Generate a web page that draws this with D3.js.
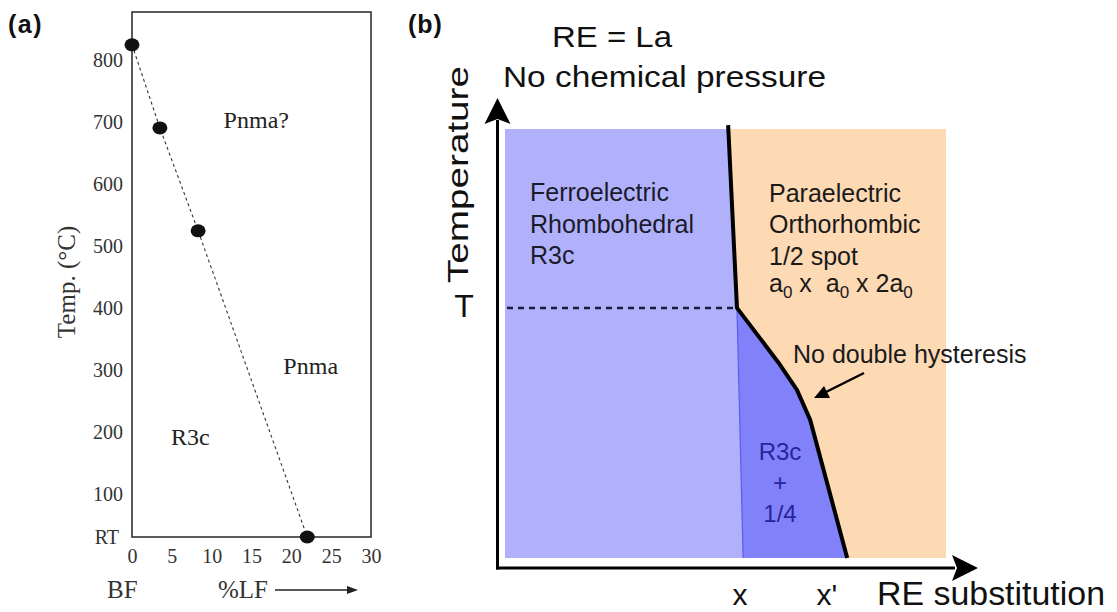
<!DOCTYPE html>
<html>
<head>
<meta charset="utf-8">
<script src="https://cdn.jsdelivr.net/npm/d3@7"></script>
<style>
  html, body { margin: 0; padding: 0; background: #fff; }
  svg { display: block; }
  text { white-space: pre; }
</style>
</head>
<body>
<svg id="chart" width="1117" height="612"></svg>
<script>
// ---------- Panel (a): BiFeO3 – LaFeO3 transition temperatures ----------
const lfPercent      = [0, 3.5, 8.3, 22];        // % LaFeO3
const transitionTemp = [824, 690, 524, 30];      // °C (last point sits at RT)
const roomTemp       = 30;
const tempTicks      = [30, 100, 200, 300, 400, 500, 600, 700, 800];
const tempTickLabels = ["RT", "100", "200", "300", "400", "500", "600", "700", "800"];
const lfTicks        = [0, 5, 10, 15, 20, 25, 30];
const tempDomain     = [roomTemp, 877];
const lfDomain       = [0, 30];
const phaseLabelsA   = [
  { text: "Pnma?", lf: 11.5, temp: 690 },
  { text: "Pnma",  lf: 19.0, temp: 293 },
  { text: "R3c",   lf: 4.9,  temp: 178 }
];

// ---------- Panel (b): schematic phase diagram, normalised units ----------
// sub: RE substitution (0..1 across the shaded field), temp: temperature (0..1)
const phaseBoundary = [
  { sub: 0.506, temp: 1.009 },
  { sub: 0.526, temp: 0.583 },
  { sub: 0.619, temp: 0.457 },
  { sub: 0.662, temp: 0.392 },
  { sub: 0.692, temp: 0.322 },
  { sub: 0.776, temp: 0.000 }
];
const mixedPhaseEdge = [ { sub: 0.526, temp: 0.583 }, { sub: 0.540, temp: 0.000 } ];
const transitionT    = 0.583;
const subMarks       = [ { label: "x", sub: 0.533 }, { label: "x'", sub: 0.730 } ];

const svg = d3.select("#chart");
svg.append("rect").attr("width", 1117).attr("height", 612).attr("fill", "#fff");

// =================== Panel (a) ===================
const serif = "'Liberation Serif', 'Times New Roman', serif";
const sans  = "'Liberation Sans', Arial, Helvetica, sans-serif";

const xA = d3.scaleLinear().domain(lfDomain).range([132, 371]);
const yA = d3.scaleLinear().domain(tempDomain).range([537, 12]);

const gA = svg.append("g");

gA.append("text").text("(a)")
  .attr("x", 8).attr("y", 33)
  .attr("font-family", sans).attr("font-weight", "bold")
  .attr("font-size", 25).attr("letter-spacing", 1.5).attr("fill", "#111");

// frame
gA.append("rect")
  .attr("x", xA(lfDomain[0])).attr("y", yA(tempDomain[1]))
  .attr("width", xA(lfDomain[1]) - xA(lfDomain[0]))
  .attr("height", yA(tempDomain[0]) - yA(tempDomain[1]))
  .attr("fill", "none").attr("stroke", "#333").attr("stroke-width", 1.6);

// axes (labels only, no tick marks)
const yAxisA = gA.append("g")
  .attr("transform", `translate(${xA(0)},0)`)
  .call(d3.axisLeft(yA).tickValues(tempTicks)
        .tickFormat((d, i) => tempTickLabels[i]).tickSize(0).tickPadding(9));
const xAxisA = gA.append("g")
  .attr("transform", `translate(0,${yA(roomTemp)})`)
  .call(d3.axisBottom(xA).tickValues(lfTicks).tickSize(0).tickPadding(12));
[yAxisA, xAxisA].forEach(g => {
  g.select(".domain").remove();
  g.selectAll("text").attr("font-family", serif).attr("font-size", 20).attr("fill", "#333");
});
yAxisA.selectAll(".tick text").filter(d => d === roomTemp).attr("dx", -4);

// dashed transition line and points
const pts = lfPercent.map((v, i) => ({ lf: v, temp: transitionTemp[i] }));
gA.append("path").datum(pts)
  .attr("d", d3.line().x(d => xA(d.lf)).y(d => yA(d.temp)))
  .attr("fill", "none").attr("stroke", "#333").attr("stroke-width", 1.1)
  .attr("stroke-dasharray", "3,3");
gA.selectAll("ellipse.pt").data(pts).join("ellipse")
  .attr("cx", d => xA(d.lf)).attr("cy", d => yA(d.temp))
  .attr("rx", 7.5).attr("ry", 6.5).attr("fill", "#111");

// phase labels
gA.selectAll("text.phase").data(phaseLabelsA).join("text")
  .attr("class", "phase")
  .attr("x", d => xA(d.lf)).attr("y", d => yA(d.temp))
  .attr("font-family", serif).attr("font-size", 24).attr("fill", "#222")
  .text(d => d.text);

// axis titles
gA.append("text").text("Temp. (°C)")
  .attr("transform", "translate(75,282) rotate(-90)")
  .attr("text-anchor", "middle")
  .attr("font-family", serif).attr("font-size", 25).attr("fill", "#333");
gA.append("text").text("BF")
  .attr("x", 107).attr("y", 598)
  .attr("font-family", serif).attr("font-size", 25).attr("fill", "#333");
gA.append("text").text("%LF")
  .attr("x", 218).attr("y", 598)
  .attr("font-family", serif).attr("font-size", 25).attr("fill", "#333");
gA.append("line").attr("x1", 275).attr("x2", 350).attr("y1", 590).attr("y2", 590)
  .attr("stroke", "#222").attr("stroke-width", 1.3);
gA.append("path").attr("d", "M358,590 L347,586 L347,594 Z").attr("fill", "#222");

// =================== Panel (b) ===================
const xB = d3.scaleLinear().domain([0, 1]).range([505, 946]);
const yB = d3.scaleLinear().domain([0, 1]).range([558, 129]);
const gB = svg.append("g");

const lightBlue = "#b1b1fb", darkBlue = "#8181f9", orange = "#fdd9b4";

gB.append("text").text("(b)")
  .attr("x", 408).attr("y", 33)
  .attr("font-family", sans).attr("font-weight", "bold")
  .attr("font-size", 25).attr("letter-spacing", 1).attr("fill", "#111");

// paraelectric field (whole area underneath)
gB.append("rect")
  .attr("x", xB(0)).attr("y", yB(1))
  .attr("width", xB(1) - xB(0)).attr("height", yB(0) - yB(1))
  .attr("fill", orange);

// ferroelectric field: left of the boundary (above T) and of the mixed-phase edge (below T)
const upper = phaseBoundary.filter(d => d.temp >= transitionT);
const topSub = upper[0].sub + (upper[1].sub - upper[0].sub) *
  (upper[0].temp - 1) / (upper[0].temp - upper[1].temp);
const ferroPoly = [
  { sub: 0, temp: 0 }, { sub: 0, temp: 1 }, { sub: topSub, temp: 1 },
  ...upper.slice(1), mixedPhaseEdge[1]
];
const area = d3.line().x(d => xB(d.sub)).y(d => yB(d.temp));
gB.append("path").attr("d", area(ferroPoly) + "Z").attr("fill", lightBlue);

// mixed R3c + 1/4 field
const lower = phaseBoundary.filter(d => d.temp <= transitionT);
const mixedPoly = [...lower, mixedPhaseEdge[1]];
gB.append("path").attr("d", area(mixedPoly) + "Z").attr("fill", darkBlue);
gB.append("path").datum(mixedPhaseEdge).attr("d", area)
  .attr("stroke", "#5b5bf2").attr("stroke-width", 1.2).attr("fill", "none");

// T dashed line
gB.append("line")
  .attr("x1", xB(0) + 2).attr("x2", xB(phaseBoundary[1].sub))
  .attr("y1", yB(transitionT)).attr("y2", yB(transitionT))
  .attr("stroke", "#1a1a3a").attr("stroke-width", 2.5).attr("stroke-dasharray", "6,5");

// phase boundary
gB.append("path").datum(phaseBoundary).attr("d", area)
  .attr("fill", "none").attr("stroke", "#000").attr("stroke-width", 4)
  .attr("stroke-linejoin", "round");

// axes with arrowheads
gB.append("line").attr("x1", 497.5).attr("x2", 497.5).attr("y1", 569.5).attr("y2", 120)
  .attr("stroke", "#000").attr("stroke-width", 3);
gB.append("path").attr("d", "M497.5,98 L484.5,124 L497.5,119 L510.5,124 Z").attr("fill", "#000");
gB.append("line").attr("x1", 496).attr("x2", 955).attr("y1", 568).attr("y2", 568)
  .attr("stroke", "#000").attr("stroke-width", 3);
gB.append("path").attr("d", "M978,568 L952,555 L957,568 L952,581 Z").attr("fill", "#000");

// axis titles and marks
gB.append("text").text("Temperature")
  .attr("transform", "translate(468,174.5) rotate(-90)")
  .attr("text-anchor", "middle").attr("textLength", 217).attr("lengthAdjust", "spacingAndGlyphs")
  .attr("font-family", sans).attr("font-size", 30).attr("fill", "#111");
gB.append("text").text("T")
  .attr("x", 464).attr("y", 317).attr("text-anchor", "middle")
  .attr("font-family", sans).attr("font-size", 32).attr("fill", "#111");
gB.selectAll("text.sub").data(subMarks).join("text")
  .attr("class", "sub")
  .attr("x", d => xB(d.sub)).attr("y", 605).attr("text-anchor", "middle")
  .attr("font-family", sans).attr("font-size", 30).attr("fill", "#111")
  .text(d => d.label);
gB.append("text").text("RE substitution")
  .attr("x", 877).attr("y", 605).attr("textLength", 228).attr("lengthAdjust", "spacingAndGlyphs")
  .attr("font-family", sans).attr("font-size", 33).attr("fill", "#111");

// titles
gB.append("text").text("RE = La")
  .attr("x", 552).attr("y", 47).attr("textLength", 120).attr("lengthAdjust", "spacingAndGlyphs")
  .attr("font-family", sans).attr("font-size", 30).attr("fill", "#111");
gB.append("text").text("No chemical pressure")
  .attr("x", 503).attr("y", 87).attr("textLength", 323).attr("lengthAdjust", "spacingAndGlyphs")
  .attr("font-family", sans).attr("font-size", 30).attr("fill", "#111");

// region annotations
const ferroLines = ["Ferroelectric", "Rhombohedral", "R3c"];
gB.selectAll("text.ferro").data(ferroLines).join("text")
  .attr("class", "ferro")
  .attr("x", 530).attr("y", (d, i) => [201, 233, 264][i])
  .attr("font-family", sans).attr("font-size", 25).attr("fill", "#1a1a2a")
  .text(d => d);

const paraLines = ["Paraelectric", "Orthorhombic", "1/2 spot"];
gB.selectAll("text.para").data(paraLines).join("text")
  .attr("class", "para")
  .attr("x", 769).attr("y", (d, i) => [202, 233, 265][i])
  .attr("font-family", sans).attr("font-size", 25).attr("fill", "#1a1a1a")
  .text(d => d);

// a0 x  a0 x 2a0 with subscripts
const cell = gB.append("text").attr("x", 769).attr("y", 292)
  .attr("font-family", sans).attr("font-size", 25).attr("fill", "#1a1a1a");
[["a", 0, 25], ["0", 6, 17], [" x  a", -6, 25], ["0", 6, 17], [" x 2a", -6, 25], ["0", 6, 17]]
  .forEach(([t, dy, fs]) => cell.append("tspan").attr("dy", dy).attr("font-size", fs).text(t));

gB.append("text").text("No double hysteresis")
  .attr("x", 793).attr("y", 363)
  .attr("font-family", sans).attr("font-size", 25).attr("fill", "#1a1a1a");
gB.append("line").attr("x1", 864).attr("y1", 373).attr("x2", 826).attr("y2", 392)
  .attr("stroke", "#000").attr("stroke-width", 2.5);
gB.append("path").attr("d", "M814,398 L824,386 L830,398 Z").attr("fill", "#000");

const mixLines = ["R3c", "+", "1/4"];
gB.selectAll("text.mix").data(mixLines).join("text")
  .attr("class", "mix")
  .attr("x", 780).attr("y", (d, i) => [460, 491, 522][i]).attr("text-anchor", "middle")
  .attr("font-family", sans).attr("font-size", 24).attr("fill", "#26269a")
  .text(d => d);
</script>
</body>
</html>
